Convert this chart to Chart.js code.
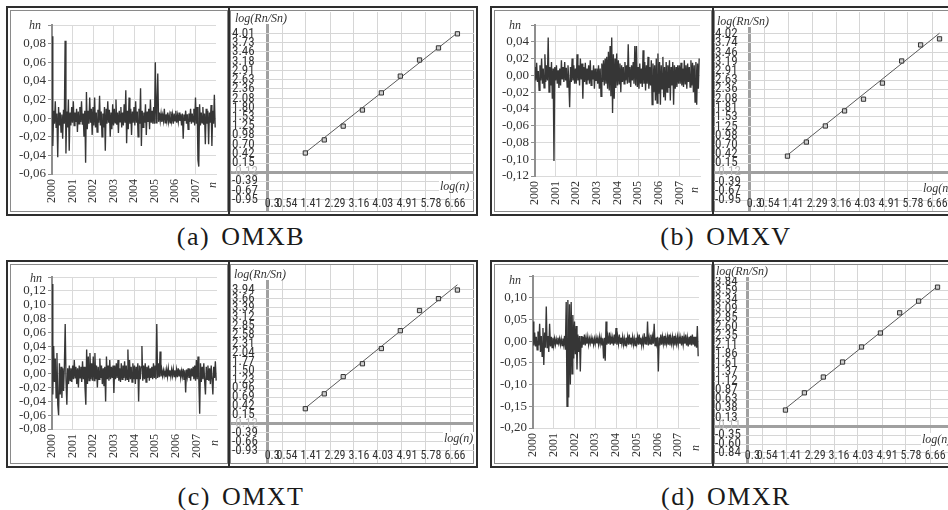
<!DOCTYPE html>
<html><head><meta charset="utf-8">
<script src="https://cdn.jsdelivr.net/npm/chart.js@4.4.1/dist/chart.umd.min.js"></script>
<style>
html,body{margin:0;padding:0;background:#fff;}
body{width:948px;height:510px;overflow:hidden;position:relative;}
.frame{position:absolute;box-sizing:border-box;border:2px solid #2e2e2e;}
.sub{position:absolute;box-sizing:border-box;border:1px solid #8a8a8a;}
.dv{position:absolute;background:#2e2e2e;width:2px;}
canvas{position:absolute;}
.it{position:absolute;font-family:'Liberation Serif','Times New Roman',serif;font-style:italic;color:#333;white-space:nowrap;line-height:1;}
.wb{background:#fff;padding:0 1px;}
.cap{position:absolute;font-family:'Liberation Serif','Times New Roman',serif;font-size:26px;line-height:26px;letter-spacing:1.5px;word-spacing:3px;color:#1a1a1a;white-space:nowrap;transform:translateX(-50%);}
</style></head><body>

<div class="frame" style="left:6px;top:6px;width:472px;height:210px"></div>
<div class="sub" style="left:10px;top:10px;width:218px;height:202px"></div>
<div class="dv" style="left:228px;top:8px;height:206px"></div>
<div class="sub" style="left:230px;top:10px;width:244px;height:202px"></div>

<div class="frame" style="left:490px;top:6px;width:472px;height:210px"></div>
<div class="sub" style="left:494px;top:10px;width:218px;height:202px"></div>
<div class="dv" style="left:712px;top:8px;height:206px"></div>
<div class="sub" style="left:714px;top:10px;width:244px;height:202px"></div>

<div class="frame" style="left:6px;top:260px;width:472px;height:208px"></div>
<div class="sub" style="left:10px;top:264px;width:218px;height:200px"></div>
<div class="dv" style="left:228px;top:262px;height:204px"></div>
<div class="sub" style="left:230px;top:264px;width:244px;height:200px"></div>

<div class="frame" style="left:490px;top:260px;width:472px;height:208px"></div>
<div class="sub" style="left:494px;top:264px;width:218px;height:200px"></div>
<div class="dv" style="left:712px;top:262px;height:204px"></div>
<div class="sub" style="left:714px;top:264px;width:244px;height:200px"></div>

<canvas id="tsA" width="216" height="200" style="left:11px;top:11px"></canvas>
<canvas id="rsA" width="243" height="199" style="left:231px;top:12px"></canvas>
<canvas id="tsB" width="216" height="200" style="left:494px;top:11px"></canvas>
<canvas id="rsB" width="243" height="199" style="left:714px;top:12px"></canvas>
<canvas id="tsC" width="216" height="198" style="left:11px;top:265px"></canvas>
<canvas id="rsC" width="243" height="198" style="left:231px;top:265px"></canvas>
<canvas id="tsD" width="216" height="198" style="left:494px;top:265px"></canvas>
<canvas id="rsD" width="243" height="198" style="left:714px;top:265px"></canvas>

<div class="it" style="left:29px;top:19px;font-size:12px">hn</div>
<div class="it" style="left:509px;top:19px;font-size:12px">hn</div>
<div class="it" style="left:30px;top:272px;font-size:12px">hn</div>
<div class="it" style="left:509px;top:274px;font-size:12px">hn</div>

<div class="it" style="left:209px;top:179px;font-size:12px;transform:rotate(-90deg)">n</div>
<div class="it" style="left:691px;top:184px;font-size:12px;transform:rotate(-90deg)">n</div>
<div class="it" style="left:211px;top:437px;font-size:12px;transform:rotate(-90deg)">n</div>
<div class="it" style="left:692px;top:442px;font-size:12px;transform:rotate(-90deg)">n</div>

<div class="it wb" style="left:234px;top:12px;font-size:12px">log(Rn/Sn)</div>
<div class="it wb" style="left:716px;top:12px;padding-top:3px;font-size:12px">log(Rn/Sn)</div>
<div class="it wb" style="left:233px;top:265px;padding-top:3px;font-size:12px">log(Rn/Sn)</div>
<div class="it wb" style="left:715px;top:265px;font-size:12px">log(Rn/Sn)</div>

<div class="it wb" style="left:439px;top:180px;font-size:12px">log(n)</div>
<div class="it wb" style="left:922px;top:182px;font-size:12px">log(n)</div>
<div class="it wb" style="left:443px;top:432px;font-size:12px">log(n)</div>
<div class="it wb" style="left:921px;top:433px;font-size:12px">log(n)</div>

<div class="cap" style="left:241px;top:224px">(a) OMXB</div>
<div class="cap" style="left:726px;top:224px">(b) OMXV</div>
<div class="cap" style="left:241px;top:484px">(c) OMXT</div>
<div class="cap" style="left:726px;top:484px">(d) OMXR</div>

<script>
// ---------- data ----------
const years = [2000, 2001, 2002, 2003, 2004, 2005, 2006, 2007];
const yearLabels = ['2000', '2001', '2002', '2003', '2004', '2005', '2006', '2007'];

// daily log-returns hn (25 samples per year)
const omxb = [
  0.088,-0.030,0.008,-0.006,0.018,-0.010,0.005,-0.042,0.012,-0.008,0.006,-0.015,0.004,-0.022,0.009,-0.006,0.083,-0.038,0.007,-0.010,0.020,-0.035,0.006,-0.008,0.012,
  -0.005,0.018,-0.008,0.006,-0.004,0.010,-0.015,0.007,-0.006,0.012,-0.004,0.018,-0.007,0.005,-0.020,0.008,-0.048,0.028,-0.012,0.008,-0.006,0.022,-0.005,0.010,-0.018,
  0.012,-0.008,0.022,-0.010,0.006,-0.015,0.009,-0.005,0.024,-0.008,0.007,-0.020,0.005,-0.010,0.012,-0.035,0.010,-0.006,0.018,-0.005,0.009,-0.020,0.006,-0.012,0.015,
  -0.008,0.010,-0.005,0.020,-0.007,0.006,-0.016,0.008,-0.004,0.012,-0.010,0.006,-0.008,0.015,-0.005,0.030,-0.027,0.008,-0.012,0.022,-0.006,0.010,-0.018,0.007,-0.005,
  0.012,-0.008,0.018,-0.005,0.007,-0.020,0.010,-0.006,0.032,-0.030,0.008,-0.010,0.006,-0.005,0.015,-0.018,0.007,-0.004,0.010,-0.012,0.020,-0.005,0.008,-0.006,0.012,
  -0.006,0.060,-0.005,0.015,0.048,-0.004,0.006,-0.003,0.005,-0.004,0.003,-0.003,0.010,-0.005,0.004,-0.003,0.006,-0.004,0.003,-0.005,0.007,-0.003,0.004,-0.006,0.005,
  -0.003,0.008,-0.005,0.003,-0.004,0.006,-0.003,0.004,-0.008,0.005,-0.022,0.004,-0.003,0.008,-0.006,0.004,-0.012,0.005,-0.004,0.010,-0.006,0.005,-0.004,0.010,-0.008,
  0.022,-0.006,0.012,-0.045,-0.052,0.015,-0.008,0.006,-0.005,0.012,-0.007,0.005,-0.028,0.010,-0.006,0.008,-0.028,0.006,-0.005,0.014,-0.030,0.008,-0.006,0.025,-0.010
];
const omxv = [
  0.010,-0.006,0.015,-0.008,0.005,-0.018,0.012,-0.006,0.020,-0.010,0.008,-0.015,0.025,-0.008,0.012,-0.006,0.045,-0.020,0.010,-0.012,0.016,-0.028,0.008,-0.102,0.010,
  -0.006,0.012,-0.010,0.006,-0.015,0.008,-0.012,0.018,-0.005,0.010,-0.008,0.016,-0.006,0.009,-0.014,0.012,-0.007,-0.038,0.010,-0.008,0.020,-0.006,0.012,-0.010,0.008,
  -0.010,0.025,-0.006,0.012,-0.012,0.020,-0.005,0.014,-0.028,0.010,-0.008,0.015,-0.010,0.008,-0.006,0.012,-0.010,0.018,-0.012,0.006,-0.005,0.012,-0.016,0.008,-0.006,
  0.008,-0.010,0.012,-0.016,0.008,-0.025,0.014,-0.008,0.018,-0.012,0.020,-0.010,0.022,-0.016,0.028,-0.018,0.035,-0.025,0.045,-0.045,0.025,-0.028,0.020,-0.015,0.026,
  -0.012,0.018,-0.010,0.014,-0.020,0.012,-0.008,0.010,-0.010,0.016,-0.006,0.012,-0.010,0.037,-0.008,0.010,-0.014,0.012,-0.006,0.016,-0.010,0.035,-0.012,0.035,-0.014,
  0.010,-0.016,0.014,-0.010,0.008,-0.014,0.030,-0.010,0.016,-0.018,0.012,-0.010,0.022,-0.016,0.010,-0.012,0.018,-0.035,0.014,-0.020,0.012,-0.030,0.020,-0.033,0.026,
  -0.022,0.016,-0.035,0.012,-0.016,0.022,-0.026,0.010,-0.030,0.016,-0.020,0.012,-0.015,0.018,-0.030,0.010,-0.012,0.016,-0.035,0.012,-0.016,0.010,-0.014,0.012,-0.010,
  0.012,-0.010,0.015,-0.012,0.008,-0.014,0.018,-0.010,0.012,-0.016,0.014,-0.008,0.010,-0.014,0.018,-0.012,0.015,-0.020,0.012,-0.032,0.016,-0.035,0.014,-0.016,0.020
];
const omxt = [
  0.130,-0.030,0.040,-0.012,0.022,-0.035,0.030,-0.045,-0.060,0.015,-0.030,0.010,-0.035,0.008,-0.025,0.012,0.072,-0.010,-0.045,0.008,-0.015,0.012,-0.010,0.008,-0.012,
  0.012,-0.008,0.020,-0.006,0.010,-0.015,0.008,-0.020,0.012,-0.006,0.010,-0.012,0.018,-0.008,0.010,-0.020,-0.045,0.035,-0.015,0.025,-0.010,0.030,-0.008,0.015,-0.010,
  0.025,-0.010,0.030,-0.008,0.012,-0.020,0.010,-0.008,0.022,-0.006,0.012,-0.015,0.008,-0.018,0.010,-0.040,0.025,-0.008,0.012,-0.010,0.020,-0.008,0.010,-0.006,0.012,
  -0.028,0.012,-0.008,0.015,-0.006,0.020,-0.010,0.008,-0.012,0.015,-0.008,0.012,-0.006,0.018,-0.010,0.012,-0.008,0.035,-0.012,0.020,-0.008,0.010,-0.012,0.015,-0.008,
  0.012,-0.015,0.010,-0.008,0.015,-0.040,0.012,-0.008,0.010,0.040,-0.010,0.012,-0.008,0.015,-0.012,0.010,-0.006,0.012,-0.010,0.008,-0.006,0.010,-0.008,0.015,-0.006,
  0.012,-0.008,0.072,-0.006,0.015,-0.005,0.032,-0.004,0.006,-0.003,0.005,-0.003,0.004,-0.005,0.006,-0.004,0.008,-0.003,0.005,-0.004,0.006,-0.003,0.007,-0.004,0.005,
  -0.004,0.006,-0.005,0.008,-0.003,0.006,-0.006,0.004,-0.004,0.007,-0.008,0.005,-0.027,0.006,-0.004,0.008,-0.006,0.007,-0.010,0.008,-0.004,0.010,-0.008,0.012,-0.010,
  0.020,-0.008,0.025,-0.010,-0.058,0.015,-0.012,0.010,-0.008,0.015,-0.010,-0.030,0.010,-0.008,0.012,-0.010,0.008,-0.015,0.012,-0.008,-0.030,0.010,-0.006,0.018,-0.010
];
const omxr = [
  0.045,-0.010,0.020,-0.012,0.010,-0.020,0.022,-0.010,0.040,-0.025,0.012,-0.035,0.030,-0.055,0.020,-0.015,0.080,-0.015,0.012,-0.025,0.040,-0.012,0.010,-0.015,0.008,
  -0.010,0.006,-0.008,0.005,-0.006,0.008,-0.005,0.006,-0.008,0.005,-0.010,0.006,-0.008,0.012,-0.020,0.090,-0.150,0.095,-0.130,0.085,-0.100,0.090,-0.075,0.060,-0.040,
  0.045,-0.030,0.035,-0.065,0.015,-0.025,0.012,-0.070,0.012,-0.015,0.010,-0.008,0.015,-0.010,0.008,-0.006,0.010,-0.008,0.006,-0.005,0.008,-0.006,0.005,-0.008,0.006,
  -0.006,0.008,-0.005,0.006,-0.008,0.010,-0.006,0.008,-0.010,0.006,-0.040,0.008,-0.045,0.045,-0.008,0.010,-0.006,0.020,-0.008,0.010,-0.006,0.008,-0.010,0.015,-0.006,
  0.030,-0.008,0.010,-0.006,0.015,-0.005,0.008,-0.006,0.010,-0.008,0.006,-0.010,0.008,-0.006,0.010,-0.008,0.015,-0.006,0.008,-0.005,0.010,-0.008,0.006,-0.010,0.008,
  -0.006,0.010,-0.008,0.015,-0.006,0.008,-0.010,0.006,-0.008,0.018,-0.006,0.010,-0.008,0.045,-0.010,0.008,-0.006,0.015,-0.008,0.010,-0.006,0.040,-0.010,0.008,-0.006,
  0.010,-0.070,0.008,-0.010,0.015,-0.008,0.010,-0.006,0.012,-0.010,0.008,-0.006,0.010,-0.008,0.015,-0.010,0.008,-0.006,0.010,-0.008,0.012,-0.010,0.008,-0.006,0.010,
  -0.008,0.010,-0.006,0.008,-0.010,0.012,-0.008,0.010,-0.006,0.015,-0.010,0.008,-0.012,0.010,-0.008,0.012,-0.010,0.015,-0.008,0.010,-0.012,0.010,-0.015,0.035,-0.035
];

// hn axis ticks
const hnTicksA = [-0.06, -0.04, -0.02, 0, 0.02, 0.04, 0.06, 0.08, 0.10];
const hnLabelsA = ['-0,06', '-0,04', '-0,02', '0,00', '0,02', '0,04', '0,06', '0,08', ''];
const hnTicksB = [-0.12, -0.10, -0.08, -0.06, -0.04, -0.02, 0, 0.02, 0.04, 0.06];
const hnLabelsB = ['-0,12', '-0,10', '-0,08', '-0,06', '-0,04', '-0,02', '0,00', '0,02', '0,04', ''];
const hnTicksC = [-0.08, -0.06, -0.04, -0.02, 0, 0.02, 0.04, 0.06, 0.08, 0.10, 0.12, 0.14];
const hnLabelsC = ['-0,08', '-0,06', '-0,04', '-0,02', '0,00', '0,02', '0,04', '0,06', '0,08', '0,10', '0,12', ''];
const hnTicksD = [-0.20, -0.15, -0.10, -0.05, 0, 0.05, 0.10, 0.15];
const hnLabelsD = ['-0,20', '-0,15', '-0,10', '-0,05', '0,00', '0,05', '0,10', ''];

// R/S analysis
const logN = [1.39, 2.08, 2.77, 3.47, 4.16, 4.85, 5.55, 6.24, 6.93];
const rsA = [0.45, 0.84, 1.25, 1.73, 2.24, 2.74, 3.22, 3.58, 4.00];
const rsB = [0.36, 0.78, 1.26, 1.71, 2.06, 2.54, 3.20, 3.68, 3.86];
const rsC = [0.34, 0.79, 1.31, 1.70, 2.16, 2.70, 3.31, 3.67, 3.93];
const rsD = [0.33, 0.80, 1.23, 1.64, 2.05, 2.43, 2.98, 3.30, 3.68];
const fitA = [0.46, 4.03];
const fitB = [0.39, 4.03];
const fitC = [0.36, 4.09];
const fitD = [0.37, 3.70];

const rsXTicks = [0, 0.54, 1.41, 2.29, 3.16, 4.03, 4.91, 5.78, 6.66];
const rsXLabels = ['0.3', '0.54', '1.41', '2.29', '3.16', '4.03', '4.91', '5.78', '6.66'];
const rsYLabelsA = ['4.01','3.73','3.46','3.18','2.91','2.63','2.36','2.08','1.80','1.53','1.25','0.98','0.70','0.42','0.15','-0.12','-0.39','-0.67','-0.95'];
const rsYLabelsB = ['4.02','3.74','3.46','3.19','2.91','2.63','2.36','2.08','1.81','1.53','1.25','0.98','0.70','0.42','0.15','-0.12','-0.39','-0.67','-0.95'];
const rsYLabelsC = ['3.94','3.66','3.39','3.12','2.85','2.58','2.31','2.04','1.77','1.50','1.23','0.96','0.69','0.42','0.15','-0.12','-0.39','-0.66','-0.93'];
const rsYLabelsD = ['3.84','3.59','3.34','3.09','2.85','2.60','2.35','2.11','1.86','1.61','1.37','1.12','0.87','0.63','0.38','0.13','-0.11','-0.35','-0.60','-0.84'];
const rsCrossA = -0.12, rsCrossB = -0.12, rsCrossC = -0.12, rsCrossD = -0.11;

// ---------- drawing ----------
const serif = "'Liberation Serif','Times New Roman',serif";
const narrow = "'Roboto Condensed','Liberation Sans Narrow','Liberation Sans',sans-serif";

function noPad(s) { s.paddingLeft = 0; s.paddingRight = 0; s.paddingTop = 0; s.paddingBottom = 0; }

function tsChart(id, values, ticks, labels, geo) {
  const n = values.length;
  const pts = values.map((v, i) => ({ x: 2000 + i * 8 / n, y: v }));
  new Chart(document.getElementById(id), {
    type: 'line',
    data: { datasets: [{ data: pts, borderColor: '#363636', borderWidth: 1.35, pointRadius: 0, tension: 0 }] },
    options: {
      responsive: false, animation: false, events: [],
      layout: { autoPadding: false, padding: { left: 0, top: geo.top, right: geo.right, bottom: 0 } },
      plugins: { legend: { display: false }, tooltip: { enabled: false } },
      scales: {
        x: {
          type: 'linear', min: 2000, max: 2008,
          afterBuildTicks: s => { s.ticks = years.map(v => ({ value: v })); },
          afterFit: s => { s.height = geo.xh; noPad(s); },
          grid: { color: '#dadada', lineWidth: 1, drawTicks: false },
          border: { display: true, color: '#dadada', width: 1 },
          ticks: { autoSkip: false, minRotation: 90, maxRotation: 90, padding: 5,
                   font: { family: serif, size: 12 }, color: '#333',
                   callback: (v, i) => yearLabels[i] }
        },
        y: {
          min: ticks[0], max: ticks[ticks.length - 1],
          afterBuildTicks: s => { s.ticks = ticks.map(v => ({ value: v })); },
          afterFit: s => { s.width = geo.yw; noPad(s); },
          grid: { color: '#dadada', lineWidth: 1, drawTicks: true, tickLength: 4, tickColor: '#8f8f8f' },
          border: { display: true, color: '#8f8f8f', width: 2 },
          ticks: { autoSkip: false, padding: 2, font: { family: serif, size: 13 }, color: '#333',
                   callback: (v, i) => labels[i] }
        }
      }
    }
  });
}

function rsChart(id, vals, fit, yLabels, cross, geo) {
  const yTicks = yLabels.map(parseFloat);
  const pts = logN.map((x, i) => ({ x: x, y: vals[i] }));
  const line = [{ x: logN[0], y: fit[0] }, { x: logN[logN.length - 1], y: fit[1] }];
  new Chart(document.getElementById(id), {
    type: 'scatter',
    data: { datasets: [
      { data: pts, pointStyle: 'rect', pointRadius: 3, backgroundColor: '#cfcfcf', borderColor: '#333', borderWidth: 1 },
      { type: 'line', data: line, borderColor: '#5a5a5a', borderWidth: 1, pointRadius: 0, showLine: true }
    ] },
    options: {
      responsive: false, animation: false, events: [],
      layout: { autoPadding: false, padding: 0 },
      plugins: { legend: { display: false }, tooltip: { enabled: false } },
      scales: {
        x: {
          type: 'linear', min: geo.xmin, max: geo.xmax,
          afterBuildTicks: s => { s.ticks = rsXTicks.map(v => ({ value: v })); },
          afterFit: s => { s.height = 0; noPad(s); },
          grid: { drawTicks: false,
                  color: c => (c.tick && c.tick.value === 0) ? '#a0a0a0' : '#d6d6d6',
                  lineWidth: c => (c.tick && c.tick.value === 0) ? 3 : 1 },
          border: { display: false },
          ticks: { autoSkip: false, maxRotation: 0, mirror: true, padding: 0, labelOffset: 5,
                   font: { family: narrow, size: 12 }, color: '#333',
                   callback: (v, i) => rsXLabels[i] }
        },
        y: {
          min: geo.ymin, max: geo.ymax,
          afterBuildTicks: s => { s.ticks = yTicks.map(v => ({ value: v })); },
          afterFit: s => { s.width = 0; noPad(s); },
          grid: { drawTicks: false,
                  color: c => (c.tick && c.tick.value === cross) ? '#a0a0a0' : '#d6d6d6',
                  lineWidth: c => (c.tick && c.tick.value === cross) ? 3 : 1 },
          border: { display: false },
          ticks: { autoSkip: false, mirror: true, padding: 1, font: { family: narrow, size: 13 },
                   color: c => (c.tick && c.tick.value === cross) ? '#bbb' : '#333',
                   callback: (v, i) => yLabels[i] }
        }
      }
    }
  });
}

tsChart('tsA', omxb, hnTicksA, hnLabelsA, { top: 14, right: 11, xh: 37, yw: 41 });
tsChart('tsB', omxv, hnTicksB, hnLabelsB, { top: 14, right: 10, xh: 35, yw: 41 });
tsChart('tsC', omxt, hnTicksC, hnLabelsC, { top: 12, right: 10, xh: 34, yw: 41 });
tsChart('tsD', omxr, hnTicksD, hnLabelsD, { top: 11, right: 11, xh: 35, yw: 39 });

rsChart('rsA', rsA, fitA, rsYLabelsA, rsCrossA, { xmin: -1.318, xmax: 7.534, ymin: -1.278, ymax: 4.650 });
rsChart('rsB', rsB, fitB, rsYLabelsB, rsCrossB, { xmin: -1.286, xmax: 7.566, ymin: -1.278, ymax: 4.662 });
rsChart('rsC', rsC, fitC, rsYLabelsC, rsCrossC, { xmin: -1.318, xmax: 7.534, ymin: -1.302, ymax: 4.687 });
rsChart('rsD', rsD, fitD, rsYLabelsD, rsCrossD, { xmin: -1.213, xmax: 7.639, ymin: -1.113, ymax: 4.284 });
</script>
</body></html>
